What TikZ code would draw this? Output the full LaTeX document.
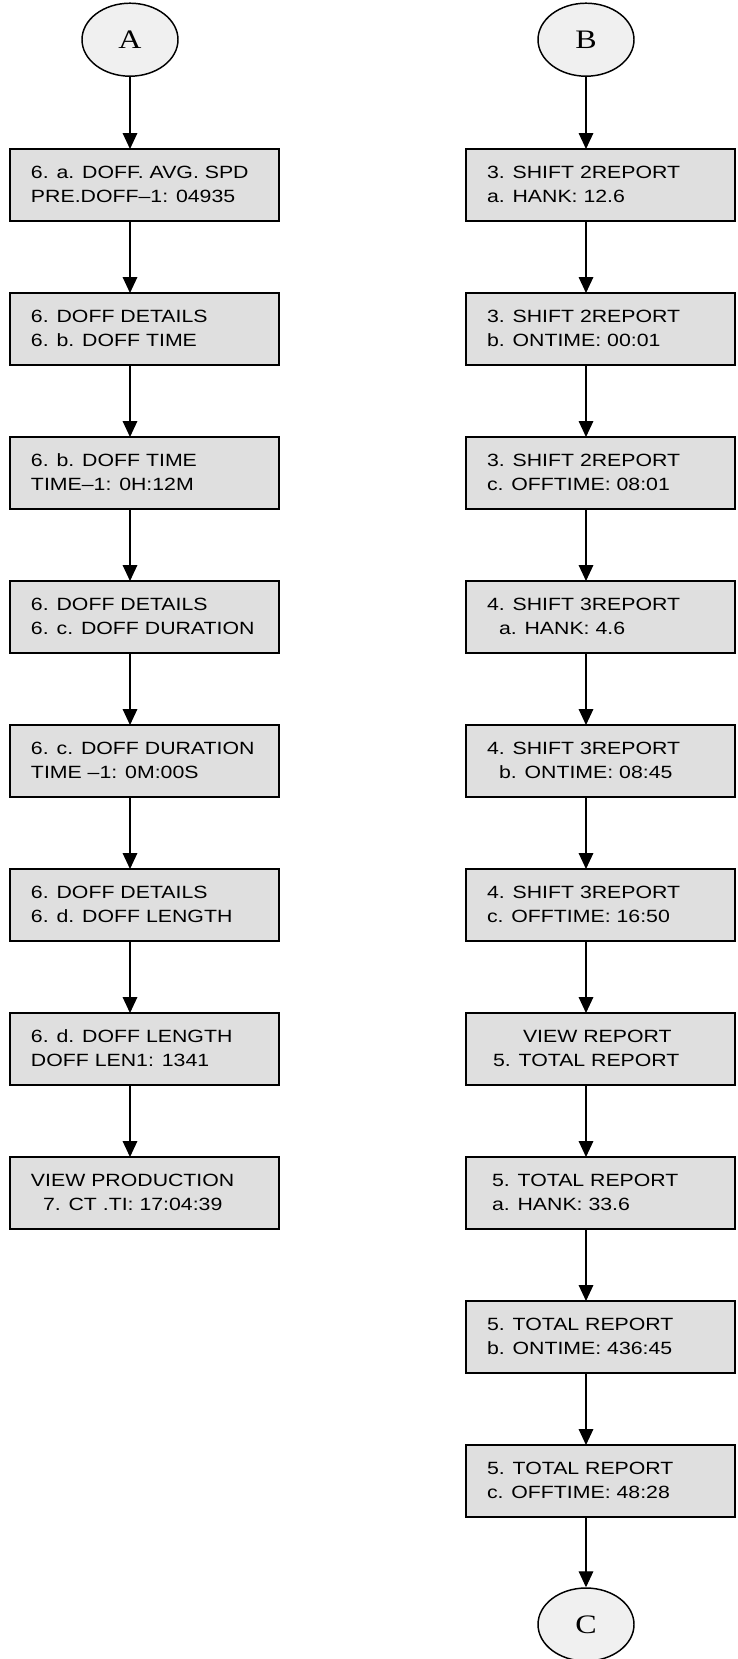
\documentclass[tikz,border=0pt]{standalone}
\usepackage{fontspec}
\setmainfont{Liberation Sans}[FakeStretch=1.2]
\newfontfamily\letterfont{Liberation Serif}[FakeStretch=1.2]
\usetikzlibrary{shapes.geometric,arrows.meta}
\tikzset{
  fbox/.style={draw=black, line width=1.1pt, fill=gray!25, rectangle,
    minimum width=201.75pt, minimum height=54pt, inner sep=0pt, outer sep=0pt},
  conn/.style={draw=black, ellipse, line width=1.1pt, fill=gray!12,
    minimum width=72pt, minimum height=54.75pt, inner sep=0pt,
    font=\letterfont\fontsize{20pt}{24pt}\selectfont},
  txt/.style={anchor=base west, inner sep=0pt, outer sep=0pt,
    font=\fontsize{13.3pt}{18pt}\selectfont},
  arr/.style={line width=0.9pt, -{Triangle[length=12pt,width=11pt]}}
}
\newcommand{\flowbox}[7]{%
  \node[fbox, anchor=north west] (#1) at (#2,#3) {};
  \node[txt] (#1-a) at (#2+21+#4, #3+29.3) {#5};
  \node[txt] (#1-b) at (#2+21+#6, #3+53.3) {#7};
}
\begin{document}
\begin{tikzpicture}[x=0.75pt,y=-0.75pt]
\useasboundingbox (0,0) rectangle (738,1659);
% left column
\node[conn] (A) at (130,39.7) {A};
\flowbox{L1}{10}{149}{0}{6. a. DOFF. AVG. SPD}{0}{PRE.DOFF–1: 04935}
\flowbox{L2}{10}{293}{0}{6. DOFF DETAILS}{0}{6. b. DOFF TIME}
\flowbox{L3}{10}{437}{0}{6. b. DOFF TIME}{0}{TIME–1: 0H:12M}
\flowbox{L4}{10}{581}{0}{6. DOFF DETAILS}{0}{6. c. DOFF DURATION}
\flowbox{L5}{10}{725}{0}{6. c. DOFF DURATION}{0}{TIME –1: 0M:00S}
\flowbox{L6}{10}{869}{0}{6. DOFF DETAILS}{0}{6. d. DOFF LENGTH}
\flowbox{L7}{10}{1013}{0}{6. d. DOFF LENGTH}{0}{DOFF LEN1: 1341}
\flowbox{L8}{10}{1157}{0}{VIEW PRODUCTION}{12}{7. CT .TI: 17:04:39}
\draw[arr] (A.south) -- (L1.north -| A.south);
\foreach \p/\q in {L1/L2,L2/L3,L3/L4,L4/L5,L5/L6,L6/L7,L7/L8}
  \draw[arr] (\p.south -| A.south) -- (\q.north -| A.south);
% right column
\node[conn] (B) at (586,39.7) {B};
\flowbox{R1}{466}{149}{0}{3. SHIFT 2REPORT}{0}{a. HANK: 12.6}
\flowbox{R2}{466}{293}{0}{3. SHIFT 2REPORT}{0}{b. ONTIME: 00:01}
\flowbox{R3}{466}{437}{0}{3. SHIFT 2REPORT}{0}{c. OFFTIME: 08:01}
\flowbox{R4}{466}{581}{0}{4. SHIFT 3REPORT}{12}{a. HANK: 4.6}
\flowbox{R5}{466}{725}{0}{4. SHIFT 3REPORT}{12}{b. ONTIME: 08:45}
\flowbox{R6}{466}{869}{0}{4. SHIFT 3REPORT}{0}{c. OFFTIME: 16:50}
\flowbox{R7}{466}{1013}{36}{VIEW REPORT}{6}{5. TOTAL REPORT}
\flowbox{R8}{466}{1157}{5}{5. TOTAL REPORT}{5}{a. HANK: 33.6}
\flowbox{R9}{466}{1301}{0}{5. TOTAL REPORT}{0}{b. ONTIME: 436:45}
\flowbox{R10}{466}{1445}{0}{5. TOTAL REPORT}{0}{c. OFFTIME: 48:28}
\node[conn] (C) at (586,1624.5) {C};
\draw[arr] (B.south) -- (R1.north -| B.south);
\foreach \p/\q in {R1/R2,R2/R3,R3/R4,R4/R5,R5/R6,R6/R7,R7/R8,R8/R9,R9/R10}
  \draw[arr] (\p.south -| B.south) -- (\q.north -| B.south);
\draw[arr] (R10.south -| C.north) -- (C.north);
\end{tikzpicture}
\end{document}
